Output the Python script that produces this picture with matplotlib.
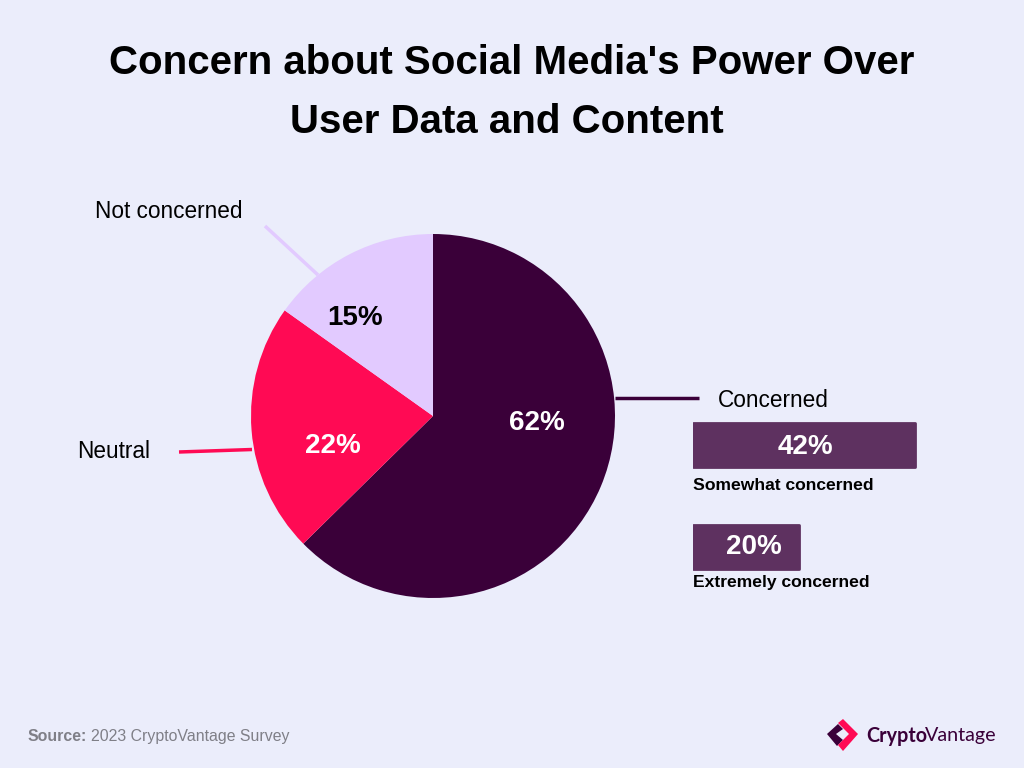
import matplotlib
matplotlib.use('Agg')
import matplotlib.pyplot as plt
from matplotlib.patches import Polygon

plt.rcParams['font.family'] = ['Liberation Sans', 'DejaVu Sans']

title_lines = ["Concern about Social Media's Power Over", "User Data and Content"]

pie_labels = ['Concerned', 'Neutral', 'Not concerned']
pie_values = [62, 22, 15]
pie_colors = ['#3a0039', '#ff0a54', '#e2caff']
pie_text_colors = ['white', 'white', 'black']

sub_labels = ['Somewhat concerned', 'Extremely concerned']
sub_values = [42, 20]

BG = '#ebedfb'
W, H = 1024, 768


def px_axes(fig, x0, y0, x1, y1):
    # box given in image pixels, y going down
    return fig.add_axes([x0 / W, 1 - y1 / H, (x1 - x0) / W, (y1 - y0) / H])


fig = plt.figure(figsize=(10.24, 7.68), dpi=100, facecolor=BG)

# overlay in pixel coordinates for the text, leader lines and logo
ov = fig.add_axes([0, 0, 1, 1], zorder=10)
ov.set_xlim(0, W)
ov.set_ylim(H, 0)
ov.axis('off')

for x, y, line in zip([512, 507], [63, 122], title_lines):
    ov.text(x, y, line, ha='center', va='center', fontsize=29, fontweight='bold', color='black')

# pie
ax = px_axes(fig, 251, 234, 615, 598)
ax.pie(pie_values, colors=pie_colors, startangle=90, counterclock=False, radius=1)
ax.set_xlim(-1, 1)
ax.set_ylim(-1, 1)
ax.set_aspect('equal')

pct_pos = [(537, 423), (333, 446), (355, 318)]
for val, col, (x, y) in zip(pie_values, pie_text_colors, pct_pos):
    ov.text(x, y, f'{val}%', ha='center', va='center', fontsize=20, fontweight='bold', color=col)

# leader lines
ov.plot([615, 699], [398, 398], color=pie_colors[0], lw=2.5, solid_capstyle='butt')
ov.plot([179, 252], [452, 449.5], color=pie_colors[1], lw=2.5, solid_capstyle='butt')
ov.plot([265, 318], [226, 275], color=pie_colors[2], lw=2.5, solid_capstyle='butt')

ov.text(718, 400.5, pie_labels[0], ha='left', va='center', fontsize=16.3, color='black')
ov.text(77, 452, pie_labels[1], ha='left', va='center', fontsize=16.3, color='black')
ov.text(95, 212, pie_labels[2], ha='left', va='center', fontsize=16.3, color='black')

# breakdown bars, 5.28 px per percent
bx = px_axes(fig, 693, 421.5, 933, 570.5)
bx.set_xlim(0, 240 / 5.28)
bx.set_ylim(149, 0)
bx.axis('off')
bx.patch.set_alpha(0)
bx.barh([23.5, 125.5], sub_values, height=44, color='#5e3160', edgecolor='#5e3160', linewidth=2,
        joinstyle='round')

sub_pct_pos = [(805, 447), (754, 547)]
for val, (x, y) in zip(sub_values, sub_pct_pos):
    ov.text(x, y, f'{val}%', ha='center', va='center', fontsize=20, fontweight='bold', color='white')
for lab, y in zip(sub_labels, [486, 582]):
    ov.text(693, y, lab, ha='left', va='center', fontsize=12.6, fontweight='bold', color='black')

# footer
ov.text(28, 741, 'Source:', ha='left', va='baseline', fontsize=11.4, fontweight='bold', color='#7f7f87')
ov.text(91, 741, '2023 CryptoVantage Survey', ha='left', va='baseline', fontsize=11.4, color='#7f7f87')

# logo
ov.add_patch(Polygon([(827, 734), (838, 724), (843, 729), (836, 734), (843, 740), (837, 746)],
                     closed=True, color=pie_colors[0], lw=0))
ov.add_patch(Polygon([(838, 723), (843, 719), (858, 734), (843, 751), (838, 745), (849, 734)],
                     closed=True, color=pie_colors[1], lw=0))
ov.text(866, 736, 'Crypto', ha='left', va='center', fontsize=14.2, family='Lato', fontweight='bold', color=pie_colors[0])
ov.text(925, 736, 'Vantage', ha='left', va='center', fontsize=14.2, family='Lato', color=pie_colors[0])

fig.savefig('out.png', dpi=100, facecolor=BG)
